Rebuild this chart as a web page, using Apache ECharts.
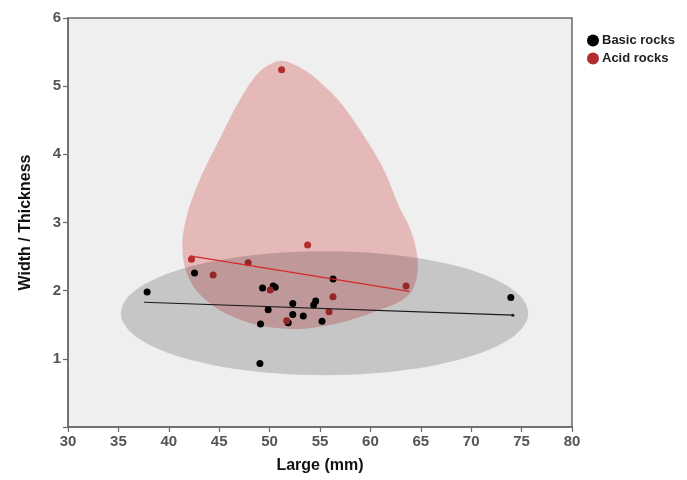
<!DOCTYPE html>
<html>
<head>
<meta charset="utf-8">
<script src="https://cdn.jsdelivr.net/npm/echarts@6/dist/echarts.min.js"></script>
<style>html,body{margin:0;padding:0;background:#fff;}#c{width:687px;height:480px;}</style>
</head>
<body>
<div id="c"></div>
<script>
// ---- data ----
var xTicks = [30, 35, 40, 45, 50, 55, 60, 65, 70, 75, 80];
var yTicks = [0, 1, 2, 3, 4, 5, 6];
var basicRocks = [
  [37.85, 1.98], [42.55, 2.26], [49.3, 2.04], [50.36, 2.07], [50.56, 2.05],
  [56.3, 2.17], [52.3, 1.81], [54.57, 1.85], [54.37, 1.79], [49.86, 1.72],
  [52.3, 1.65], [53.34, 1.63], [51.85, 1.53], [55.2, 1.55], [49.1, 1.51],
  [49.04, 0.93], [73.93, 1.90]
];
var acidRocks = [
  [42.25, 2.46], [44.4, 2.23], [47.87, 2.41], [53.77, 2.67], [50.06, 2.01],
  [56.29, 1.91], [55.9, 1.69], [51.69, 1.56], [63.54, 2.07], [51.19, 5.24]
];
var basicTrend = [[37.55, 1.83], [74.13, 1.64]];
var acidTrend = [[42.1, 2.51], [63.86, 1.99]];
// gray ellipse: center x, center y, semi-axis x, semi-axis y (data units)
var basicEllipse = [55.45, 1.67, 20.2, 0.91];
// pink envelope outline (data units)
var acidEnvelope = [
  [51.35, 5.37], [53.3, 5.25], [55.0, 5.06], [57.3, 4.71], [59.96, 4.13],
  [61.5, 3.72], [62.8, 3.25], [63.9, 2.92], [64.55, 2.6], [64.7, 2.3],
  [64.2, 2.02], [63.0, 1.85], [60.6, 1.70], [57.3, 1.54], [54.0, 1.45],
  [51.7, 1.44], [48.4, 1.51], [45.1, 1.71], [42.75, 2.00], [41.6, 2.34],
  [41.35, 2.69], [41.6, 2.98], [42.2, 3.3], [43.4, 3.74], [45.06, 4.23],
  [46.7, 4.71], [48.4, 5.11], [49.8, 5.30]
];

function catmullClosed(pts, steps) {
  var out = [], n = pts.length;
  for (var i = 0; i < n; i++) {
    var p0 = pts[(i - 1 + n) % n], p1 = pts[i], p2 = pts[(i + 1) % n], p3 = pts[(i + 2) % n];
    for (var s = 0; s < steps; s++) {
      var t = s / steps, t2 = t * t, t3 = t2 * t;
      var x = 0.5 * ((2 * p1[0]) + (-p0[0] + p2[0]) * t + (2 * p0[0] - 5 * p1[0] + 4 * p2[0] - p3[0]) * t2 + (-p0[0] + 3 * p1[0] - 3 * p2[0] + p3[0]) * t3);
      var y = 0.5 * ((2 * p1[1]) + (-p0[1] + p2[1]) * t + (2 * p0[1] - 5 * p1[1] + 4 * p2[1] - p3[1]) * t2 + (-p0[1] + 3 * p1[1] - 3 * p2[1] + p3[1]) * t3);
      out.push([x, y]);
    }
  }
  return out;
}

var chart = echarts.init(document.getElementById('c'));
var FONT = '"Liberation Sans", Arial, sans-serif';

chart.setOption({
  animation: false,
  backgroundColor: '#ffffff',
  textStyle: { fontFamily: FONT },
  grid: {
    left: 68, right: 115, top: 18, bottom: 53,
    show: true, backgroundColor: '#efefef', borderColor: '#6a6a6a', borderWidth: 1.5
  },
  legend: {
    orient: 'vertical', left: 582, top: 29,
    itemWidth: 12, itemHeight: 12, itemGap: 5,
    icon: 'circle',
    data: ['Basic rocks', 'Acid rocks'],
    textStyle: { fontFamily: FONT, fontWeight: 'bold', fontSize: 13, color: '#222', padding: [0, 0, 0, -2] }
  },
  xAxis: {
    type: 'value', min: xTicks[0], max: xTicks[xTicks.length - 1], interval: 5,
    name: 'Large (mm)', nameLocation: 'middle', nameGap: 31,
    nameTextStyle: { fontFamily: FONT, fontWeight: 'bold', fontSize: 16, color: '#111' },
    axisLine: { show: true, lineStyle: { color: '#6a6a6a', width: 1.5 } },
    axisTick: { show: true, inside: false, length: 5, lineStyle: { color: '#6a6a6a', width: 1.2 } },
    axisLabel: { margin: 7, fontFamily: FONT, fontWeight: 'bold', fontSize: 15, color: '#555',
      formatter: function (v) { return xTicks.indexOf(v) >= 0 ? String(v) : ''; } },
    splitLine: { show: false }
  },
  yAxis: {
    type: 'value', min: yTicks[0], max: yTicks[yTicks.length - 1], interval: 1,
    name: 'Width / Thickness', nameLocation: 'middle', nameGap: 34, nameRotate: 90,
    nameTextStyle: { fontFamily: FONT, fontWeight: 'bold', fontSize: 16, color: '#111' },
    axisLine: { show: true, lineStyle: { color: '#6a6a6a', width: 1.5 } },
    axisTick: { show: true, inside: false, length: 5, lineStyle: { color: '#6a6a6a', width: 1.2 } },
    axisLabel: { margin: 7, fontFamily: FONT, fontWeight: 'bold', fontSize: 15, color: '#555',
      formatter: function (v) { return v === 0 ? '' : String(v); } },
    splitLine: { show: false }
  },
  series: [
    {
      type: 'custom', name: 'acidEnvelope', z: 1, silent: true,
      data: [0],
      renderItem: function (params, api) {
        var pts = catmullClosed(acidEnvelope.map(function (p) { return api.coord(p); }), 12);
        return { type: 'polygon', shape: { points: pts },
          style: { fill: 'rgba(208,40,40,0.27)', stroke: null } };
      }
    },
    {
      type: 'scatter', name: 'Basic rocks', z: 2, symbol: 'circle', symbolSize: 7,
      itemStyle: { color: '#000000', opacity: 1 }, data: basicRocks
    },
    {
      type: 'scatter', name: 'Acid rocks', z: 2, symbol: 'circle', symbolSize: 7,
      itemStyle: { color: '#b22e2e', opacity: 1 }, data: acidRocks
    },
    {
      type: 'custom', name: 'basicEllipse', z: 3, silent: true,
      data: [0],
      renderItem: function (params, api) {
        var pts = [];
        for (var i = 0; i < 120; i++) {
          var t = i / 120 * Math.PI * 2;
          pts.push(api.coord([basicEllipse[0] + basicEllipse[2] * Math.cos(t),
                              basicEllipse[1] + basicEllipse[3] * Math.sin(t)]));
        }
        return { type: 'polygon', shape: { points: pts },
          style: { fill: 'rgba(0,0,0,0.17)', stroke: null } };
      }
    },
    {
      type: 'line', name: 'basicTrend', z: 4, silent: true,
      symbol: 'none',
      lineStyle: { color: '#1a1a1a', width: 1.2 },
      data: [basicTrend[0], { value: basicTrend[1], symbol: 'circle', symbolSize: 3, itemStyle: { color: '#1a1a1a' } }]
    },
    {
      type: 'line', name: 'acidTrend', z: 4, silent: true,
      symbol: 'none',
      lineStyle: { color: '#d42a2a', width: 1.3 },
      data: acidTrend
    }
  ]
});
</script>
</body>
</html>
